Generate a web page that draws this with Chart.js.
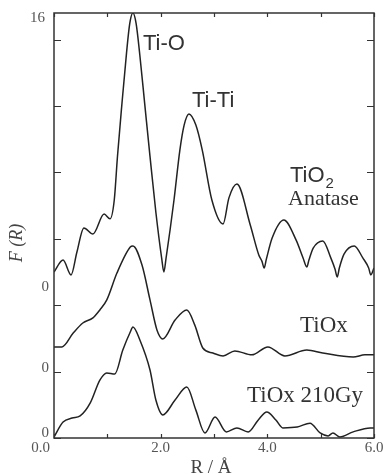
<!DOCTYPE html>
<html>
<head>
<meta charset="utf-8">
<script src="https://cdn.jsdelivr.net/npm/chart.js@4.4.1/dist/chart.umd.min.js"></script>
<style>
  body { margin: 0; background: #fff; }
  #wrap { width: 383px; height: 474px; }
</style>
</head>
<body>
<div id="wrap"><canvas id="chart" width="383" height="474"></canvas></div>
<script>
// R (Å) and F(R) for each curve (curves are stacked with offsets)
const rAnatase = [0, 0.17, 0.32, 0.43, 0.56, 0.73, 0.94, 1.05, 1.13, 1.19, 1.27, 1.36, 1.42, 1.48, 1.54, 1.61, 1.70, 1.80, 1.91, 2.02, 2.06, 2.10,
  2.25, 2.36, 2.44, 2.53, 2.66, 2.78, 2.96, 3.17, 3.28, 3.43, 3.68, 3.84, 3.90, 3.94, 3.98, 4.09, 4.31, 4.54, 4.67, 4.74, 4.78,
  4.86, 5.04, 5.19, 5.27, 5.31, 5.35, 5.44, 5.63, 5.79, 5.90, 5.94, 6.0];
const fAnatase = [6.25, 6.70, 6.14, 7.00, 7.91, 7.68, 8.43, 8.25, 8.96, 10.6, 12.5, 14.5, 15.6, 16.0, 15.6, 14.4, 12.6, 10.6, 8.5, 6.75, 6.25, 6.75,
  8.96, 10.84, 11.78, 12.20, 11.78, 10.84, 8.96, 8.06, 9.04, 9.56, 8.02, 6.89, 6.65, 6.40, 6.72, 7.53, 8.21, 7.45, 6.78, 6.44, 6.70,
  7.15, 7.42, 6.78, 6.35, 6.06, 6.40, 6.93, 7.23, 6.78, 6.40, 6.14, 6.40];

const rTiOx = [0, 0.15, 0.36, 0.54, 0.73, 0.86, 0.99, 1.18, 1.43, 1.48, 1.65, 1.80, 1.93, 2.04, 2.27, 2.49, 2.64, 2.79,
  2.98, 3.17, 3.39, 3.71, 4.01, 4.33, 4.74, 5.04, 5.61, 5.83, 6.0];
const fTiOx = [3.43, 3.43, 3.95, 4.33, 4.52, 4.82, 5.20, 6.21, 7.19, 7.23, 6.51, 5.20, 4.07, 3.73, 4.44, 4.82, 4.25, 3.39,
  3.20, 3.09, 3.28, 3.13, 3.43, 3.09, 3.31, 3.20, 3.05, 3.13, 3.13];

const rGy = [0, 0.17, 0.34, 0.49, 0.68, 0.86, 0.99, 1.14, 1.29, 1.43, 1.48, 1.61, 1.80, 1.91, 2.04, 2.27, 2.49, 2.66, 2.83,
  3.02, 3.23, 3.43, 3.64, 3.83, 3.99, 4.16, 4.29, 4.56, 4.80, 4.99, 5.14, 5.23, 5.36, 5.61, 5.93, 6.0];
const fGy = [0.04, 0.60, 0.75, 0.83, 1.32, 2.18, 2.45, 2.41, 3.31, 3.99, 4.18, 3.69, 2.56, 1.43, 0.87, 1.43, 1.92, 1.05, 0.19,
  0.79, 0.23, 0.38, 0.23, 0.68, 0.98, 0.68, 0.38, 0.41, 0.56, 0.19, 0.08, 0.19, 0.04, 0.23, 0.38, 0.38];

// axis ticks and labels
const xTicks = [0, 1, 2, 3, 4, 5, 6];
const xLabelValues = [0, 2, 4, 6];
const xLabelTexts = ["0.0", "2.0", "4.0", "6.0"];
const yTicks = [0, 2.5, 5, 7.5, 10, 12.5, 15];
const yLabelValues = [15.8, 5.7, 2.65, 0.2];
const yLabelTexts = ["16", "0", "0", "0"];

const lineColor = "#222";

function toPoints(xs, ys) {
  return xs.map((x, i) => ({ x: x, y: ys[i] }));
}

// frame, inward ticks, tick labels and the curve names
const decorPlugin = {
  id: "decor",
  afterDraw(chart) {
    const ctx = chart.ctx;
    const a = chart.chartArea;
    const xs = chart.scales.x;
    const ys = chart.scales.y;
    ctx.save();
    ctx.strokeStyle = "#333";
    ctx.lineWidth = 1.5;
    ctx.strokeRect(a.left, a.top, a.right - a.left, a.bottom - a.top);

    ctx.lineWidth = 1.2;
    ctx.beginPath();
    xTicks.forEach(v => {
      const px = Math.round(xs.getPixelForValue(v)) + 0.5;
      ctx.moveTo(px, a.bottom); ctx.lineTo(px, a.bottom - 4);
      ctx.moveTo(px, a.top); ctx.lineTo(px, a.top + 4);
    });
    yTicks.forEach(v => {
      const py = Math.round(ys.getPixelForValue(v)) + 0.5;
      ctx.moveTo(a.left, py); ctx.lineTo(a.left + 7, py);
      ctx.moveTo(a.right, py); ctx.lineTo(a.right - 7, py);
    });
    ctx.stroke();

    // tick labels
    ctx.fillStyle = "#555";
    ctx.font = "15px 'Liberation Serif'";
    ctx.textBaseline = "middle";
    xLabelValues.forEach((v, i) => {
      const px = xs.getPixelForValue(v);
      if (i === 0) {
        ctx.textAlign = "right";
        ctx.fillText(xLabelTexts[i], px - 4, a.bottom + 10);
      } else {
        ctx.textAlign = "center";
        ctx.fillText(xLabelTexts[i], px, a.bottom + 10);
      }
    });
    ctx.textAlign = "right";
    yLabelValues.forEach((v, i) => {
      ctx.fillText(yLabelTexts[i], a.left - (i === 0 ? 9 : 5), ys.getPixelForValue(v));
    });

    // axis titles
    ctx.fillStyle = "#444";
    ctx.textAlign = "center";
    ctx.font = "19px 'Liberation Serif'";
    ctx.fillText("R / Å", (a.left + a.right) / 2 - 3, a.bottom + 30);
    ctx.save();
    ctx.translate(17, 243);
    ctx.rotate(-Math.PI / 2);
    ctx.font = "italic 18px 'Liberation Serif'";
    ctx.fillText("F (R)", 0, 0);
    ctx.restore();

    // curve names
    ctx.fillStyle = "#333";
    ctx.textAlign = "left";
    ctx.font = "22px 'Liberation Sans'";
    ctx.fillText("Ti-O", 143, 44);
    ctx.fillText("Ti-Ti", 192, 101);
    ctx.fillText("TiO", 290, 176);
    const w = ctx.measureText("TiO").width;
    ctx.font = "15px 'Liberation Sans'";
    ctx.fillText("2", 290 + w + 1, 184);
    ctx.font = "22px 'Liberation Serif'";
    ctx.fillText("Anatase", 288, 199);
    ctx.font = "23px 'Liberation Serif'";
    ctx.fillText("TiOx", 300, 326);
    ctx.fillText("TiOx 210Gy", 247, 396);
    ctx.restore();
  }
};

function makeSet(label, xs, ys) {
  return {
    label: label,
    data: toPoints(xs, ys),
    borderColor: lineColor,
    borderWidth: 1.5,
    pointRadius: 0,
    fill: false,
    cubicInterpolationMode: "monotone"
  };
}

new Chart(document.getElementById("chart"), {
  type: "line",
  data: {
    datasets: [
      makeSet("TiO2 Anatase", rAnatase, fAnatase),
      makeSet("TiOx", rTiOx, fTiOx),
      makeSet("TiOx 210Gy", rGy, fGy)
    ]
  },
  options: {
    responsive: false,
    animation: false,
    layout: { padding: { left: 54, right: 9, top: 13, bottom: 36 } },
    plugins: { legend: { display: false }, tooltip: { enabled: false } },
    scales: {
      x: { type: "linear", min: 0, max: 6, display: false },
      y: { type: "linear", min: 0, max: 16, display: false }
    }
  },
  plugins: [decorPlugin]
});
</script>
</body>
</html>
